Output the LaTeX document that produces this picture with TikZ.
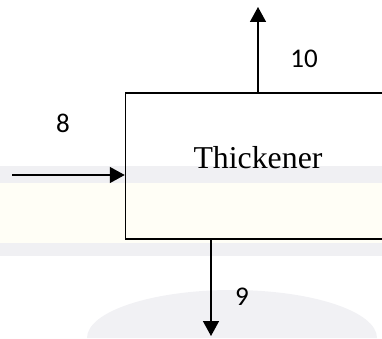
\documentclass[tikz,border=0pt]{standalone}
\usepackage{fontspec}
\setmainfont{Liberation Serif}
\newfontfamily\streamfont{Carlito}
\usetikzlibrary{arrows.meta, positioning}

\definecolor{bandgray}{HTML}{F0F0F3}
\definecolor{bandcream}{HTML}{FFFEF6}
\definecolor{bowlgray}{HTML}{F1F1F4}

\begin{document}
\begin{tikzpicture}[x=1pt, y=1pt,
    unit/.style={draw, line width=1.5pt, minimum width=265pt, minimum height=146pt, inner sep=0pt},
    flow/.style={line width=1.5pt, -{Triangle[length=15pt, width=16pt]}},
    stream/.style={font=\streamfont\fontsize{27}{30}\selectfont},]

\useasboundingbox (0,0) rectangle (382,338);

% faint bands in the background
\fill[bandgray] (0,155) rectangle (382,172);
\fill[bandcream] (0,95) rectangle (382,155);
\fill[bandgray] (0,82) rectangle (382,95);
\fill[bowlgray] (87,0) arc[start angle=180, end angle=0, x radius=145, y radius=48];

\node[unit] (thk) at (258,172) {};
\node[anchor=base] (thklabel) at ([yshift=-2pt]thk.center) {\fontsize{31.8}{36}\selectfont Thickener};

% feed, overflow and underflow
\coordinate (feed) at (12,163);
\coordinate (overflow) at (258,331);
\coordinate (underflow) at (211,2);
\draw[flow] (feed) -- (feed -| thk.west);
\draw[flow] (thk.north) -- (overflow);
\draw[flow] (underflow |- thk.south) -- (underflow);

\node[stream] (s8) at (63,215) {8};
\node[stream] (s10) at (304,279) {10};
\node[stream] (s9) at (242,41) {9};
\end{tikzpicture}
\end{document}
